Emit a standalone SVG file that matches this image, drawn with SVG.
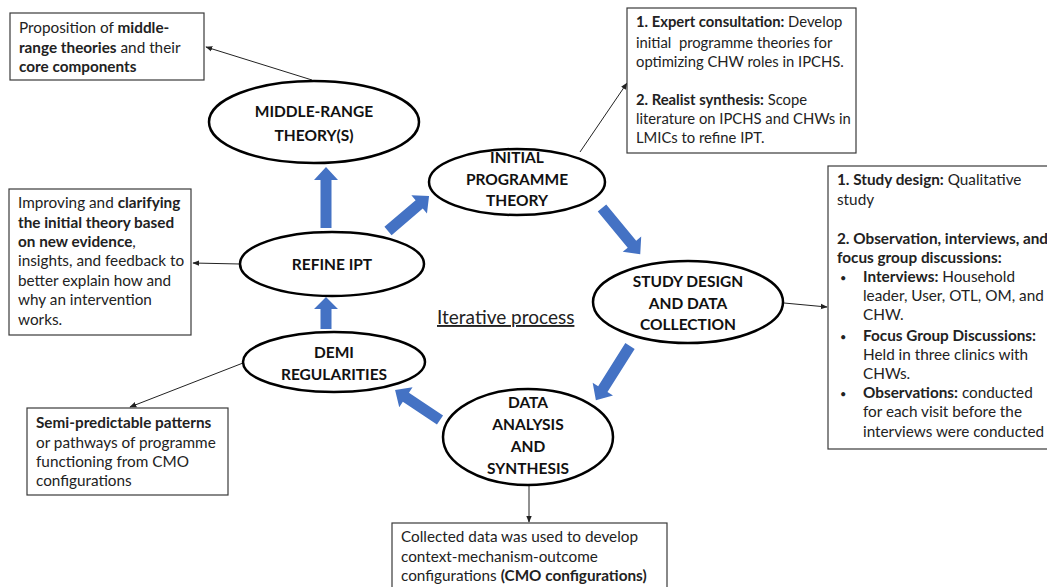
<svg xmlns="http://www.w3.org/2000/svg" width="1047" height="587" viewBox="0 0 1047 587">
<style>
.box{fill:#fff;stroke:#3a3a3a;stroke-width:1.2}
.ell{fill:#fff;stroke:#000;stroke-width:2.5}
.t{font-family:Lato,"Open Sans",sans-serif;font-size:15.3px;fill:#222}
.s{font-size:14.8px}
.b{font-weight:bold}
.et{font-family:Lato,"Open Sans",sans-serif;font-size:15.5px;font-weight:bold;fill:#111;text-anchor:middle}
.con{stroke:#222;stroke-width:1;fill:none;marker-end:url(#ah)}
.blue{fill:#4472C4}
</style>
<defs>
<marker id="ah" viewBox="0 0 10 10" refX="9" refY="5" markerWidth="7" markerHeight="7" orient="auto" markerUnits="userSpaceOnUse"><path d="M0,1 L10,5 L0,9 z" fill="#222"/></marker>
</defs>
<rect width="1047" height="587" fill="#fff"/>

<g id="connectors">
<line class="con" x1="312" y1="80" x2="206" y2="47"/>
<line class="con" x1="240" y1="264" x2="193" y2="263"/>
<line class="con" x1="243" y1="363" x2="130" y2="407"/>
<line class="con" x1="580" y1="152" x2="627" y2="83"/>
<line class="con" x1="784" y1="303" x2="827" y2="307"/>
<line class="con" x1="529" y1="485" x2="529" y2="522"/>
<g class="blue">
<polygon transform="translate(326,228) rotate(-90)" points="0,-5.5 48,-5.5 48,-12 61,0 48,12 48,5.5 0,5.5"/>
<polygon transform="translate(326,329) rotate(-90)" points="0,-5.5 20,-5.5 20,-12 32,0 20,12 20,5.5 0,5.5"/>
<polygon transform="translate(388,231) rotate(-40.5)" points="0,-5.5 41,-5.5 41,-12 54,0 41,12 41,5.5 0,5.5"/>
<polygon transform="translate(602,208) rotate(50.4)" points="0,-5.5 47,-5.5 47,-12 60,0 47,12 47,5.5 0,5.5"/>
<polygon transform="translate(630,346) rotate(122.2)" points="0,-5.5 51,-5.5 51,-12 64,0 51,12 51,5.5 0,5.5"/>
<polygon transform="translate(440,420) rotate(-146.3)" points="0,-5.5 41,-5.5 41,-12 54,0 41,12 41,5.5 0,5.5"/>
</g>
</g>

<g id="box-middle-range">
<rect class="box" x="10" y="13" width="194" height="67"/>
<text class="t" x="19" y="33">Proposition of <tspan class="b">middle-</tspan></text>
<text class="t" x="19" y="53"><tspan class="b">range theories</tspan> and their</text>
<text class="t" x="19" y="72"><tspan class="b">core components</tspan></text>
</g>

<g id="node-middle-range">
<ellipse class="ell" cx="314" cy="122" rx="105" ry="41"/>
<text class="et" x="314" y="117">MIDDLE-RANGE</text>
<text class="et" x="314" y="141">THEORY(S)</text>
</g>

<g id="box-refine">
<rect class="box" x="9" y="189" width="182" height="146"/>
<text class="t" x="18" y="208">Improving and <tspan class="b">clarifying</tspan></text>
<text class="t" x="18" y="228"><tspan class="b">the initial theory based</tspan></text>
<text class="t" x="18" y="247"><tspan class="b">on new evidence</tspan>,</text>
<text class="t" x="18" y="266">insights, and feedback to</text>
<text class="t" x="18" y="286">better explain how and</text>
<text class="t" x="18" y="305">why an intervention</text>
<text class="t" x="18" y="325">works.</text>
</g>

<g id="node-refine">
<ellipse class="ell" cx="332" cy="264" rx="92" ry="32"/>
<text class="et" x="332" y="270">REFINE IPT</text>
</g>

<g id="node-demi">
<ellipse class="ell" cx="334" cy="362" rx="91" ry="30"/>
<text class="et" x="334" y="358">DEMI</text>
<text class="et" x="334" y="380">REGULARITIES</text>
</g>

<g id="box-demi">
<rect class="box" x="27" y="408" width="201" height="87"/>
<text class="t" x="36" y="428"><tspan class="b">Semi-predictable patterns</tspan></text>
<text class="t" x="36" y="448">or pathways of programme</text>
<text class="t" x="36" y="467">functioning from CMO</text>
<text class="t" x="36" y="486">configurations</text>
</g>

<g id="node-initial">
<ellipse class="ell" cx="517" cy="182" rx="88" ry="33"/>
<text class="et" x="517" y="163">INITIAL</text>
<text class="et" x="517" y="185">PROGRAMME</text>
<text class="et" x="517" y="206">THEORY</text>
</g>

<g id="box-initial">
<rect class="box" x="627" y="8" width="229" height="145"/>
<text class="t s" x="636" y="27"><tspan class="b">1. Expert consultation:</tspan> Develop</text>
<text class="t s" x="636" y="48" xml:space="preserve">initial  programme theories for</text>
<text class="t s" x="636" y="67">optimizing CHW roles in IPCHS.</text>
<text class="t s" x="636" y="105"><tspan class="b">2. Realist synthesis:</tspan> Scope</text>
<text class="t s" x="636" y="124">literature on IPCHS and CHWs in</text>
<text class="t s" x="636" y="143">LMICs to refine IPT.</text>
</g>

<g id="node-study">
<ellipse class="ell" cx="688" cy="302" rx="95" ry="41"/>
<text class="et" x="688" y="287">STUDY DESIGN</text>
<text class="et" x="688" y="309">AND DATA</text>
<text class="et" x="688" y="330">COLLECTION</text>
</g>

<g id="box-study">
<rect class="box" x="828" y="166" width="222" height="283"/>
<text class="t" x="837" y="185"><tspan class="b">1. Study design:</tspan> Qualitative</text>
<text class="t" x="837" y="205">study</text>
<text class="t b" x="837" y="244">2. Observation, interviews, and</text>
<text class="t b" x="837" y="263">focus group discussions:</text>
<text class="t" x="840" y="282" style="font-size:11px">•</text>
<text class="t" x="863" y="282"><tspan class="b">Interviews:</tspan> Household</text>
<text class="t" x="863" y="301">leader, User, OTL, OM, and</text>
<text class="t" x="863" y="320">CHW.</text>
<text class="t" x="840" y="341" style="font-size:11px">•</text>
<text class="t b" x="863" y="341">Focus Group Discussions:</text>
<text class="t" x="863" y="360">Held in three clinics with</text>
<text class="t" x="863" y="379">CHWs.</text>
<text class="t" x="840" y="398" style="font-size:11px">•</text>
<text class="t" x="863" y="398"><tspan class="b">Observations:</tspan> conducted</text>
<text class="t" x="863" y="417">for each visit before the</text>
<text class="t" x="863" y="437">interviews were conducted</text>
</g>

<g id="node-data">
<ellipse class="ell" cx="528" cy="437" rx="85" ry="48"/>
<text class="et" x="528" y="408">DATA</text>
<text class="et" x="528" y="430">ANALYSIS</text>
<text class="et" x="528" y="452">AND</text>
<text class="et" x="528" y="474">SYNTHESIS</text>
</g>

<g id="box-data">
<rect class="box" x="392" y="523" width="275" height="70"/>
<text class="t" x="401" y="542">Collected data was used to develop</text>
<text class="t" x="401" y="562">context-mechanism-outcome</text>
<text class="t" x="401" y="581">configurations <tspan class="b">(CMO configurations)</tspan></text>
</g>

<g id="label-iterative">
<text x="437" y="324" style="font-family:Lato,'Open Sans',sans-serif;font-size:19px;fill:#222;text-decoration:underline">Iterative process</text>
</g>
</svg>
